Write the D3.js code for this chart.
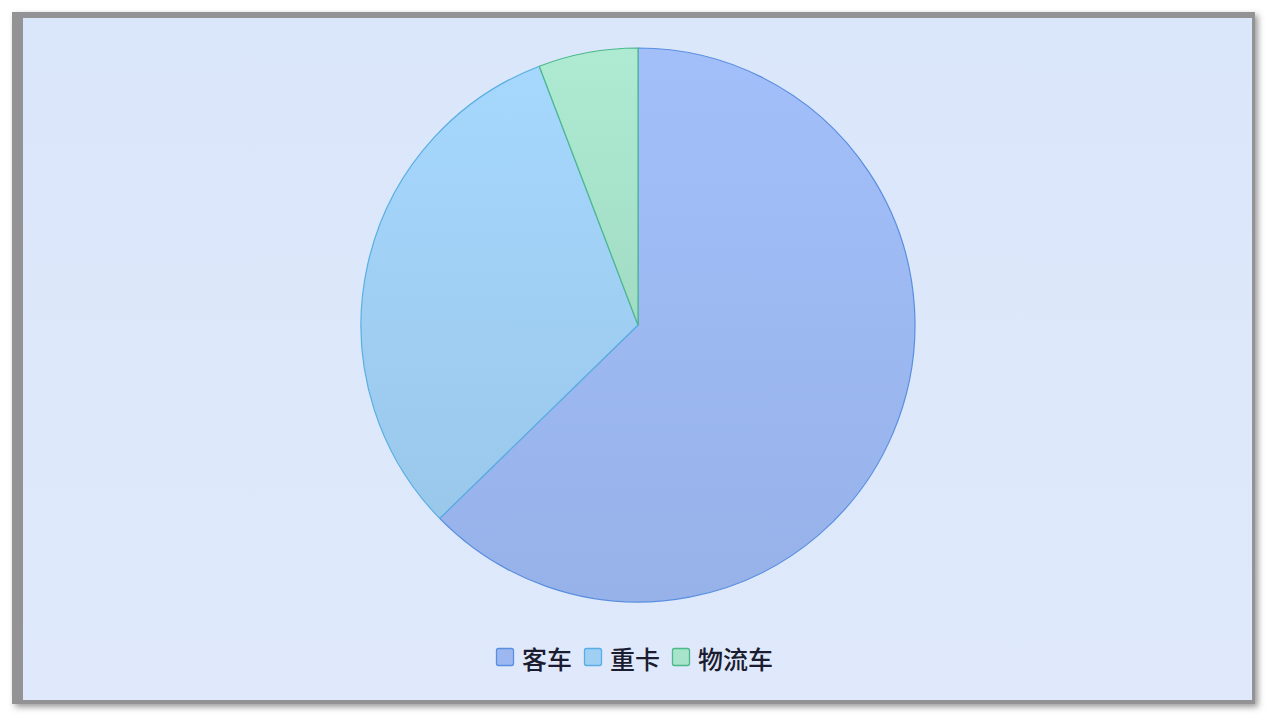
<!DOCTYPE html>
<html><head><meta charset="utf-8">
<script src="https://cdn.jsdelivr.net/npm/d3@7"></script>
<style>html,body{margin:0;padding:0;background:#fff;}svg{display:block;}</style>
</head><body>
<svg id="c" width="1278" height="720"></svg>
<script>
const categories = ["客车", "重卡", "物流车"];
const values = [62.7, 31.5, 5.8];
const fills = ["#9db8f1", "#a0cff4", "#a8e3cb"];
const strokes = ["#5a8fe0", "#58aee2", "#4bb98a"];

const svg = d3.select("#c");
const defs = svg.append("defs");
const sh = defs.append("filter").attr("id","sh").attr("x","-5%").attr("y","-5%").attr("width","110%").attr("height","110%");
sh.append("feDropShadow").attr("dx",3).attr("dy",3).attr("stdDeviation",3).attr("flood-color","#555").attr("flood-opacity",0.6);

// frame
svg.append("rect").attr("x",12).attr("y",12).attr("width",1243).attr("height",692).attr("fill","#939396").attr("filter","url(#sh)");
const bg = defs.append("linearGradient").attr("id","bg").attr("x1",0).attr("y1",0).attr("x2",0).attr("y2",1);
bg.append("stop").attr("offset","0%").attr("stop-color","#dae6fa");
bg.append("stop").attr("offset","100%").attr("stop-color","#dfe9fb");
svg.append("rect").attr("x",23).attr("y",18).attr("width",1229).attr("height",682).attr("fill","url(#bg)");

// gradients per slice
fills.forEach((f,i)=>{
  const g = defs.append("linearGradient").attr("id","g"+i).attr("x1",0).attr("y1",0).attr("x2",0).attr("y2",1);
  g.append("stop").attr("offset","0%").attr("stop-color", d3.color(f).brighter(0.1));
  g.append("stop").attr("offset","100%").attr("stop-color", d3.color(f).darker(0.1));
});

const cx = 638, cy = 325, r = 277;
const pie = d3.pie().sort(null).value(d=>d.v);
const arcs = pie(categories.map((c,i)=>({c, v: values[i], i})));
const arc = d3.arc().innerRadius(0).outerRadius(r);
const g = svg.append("g").attr("transform",`translate(${cx},${cy})`);
g.selectAll("path").data(arcs).join("path")
  .attr("d", arc)
  .attr("fill", d=>`url(#g${d.data.i})`)
  .attr("stroke", d=>strokes[d.data.i])
  .attr("stroke-width", 1.2)
  .attr("stroke-linejoin","round");

// legend
const legendX = [496, 584, 672];
const lg = svg.append("g");
categories.forEach((c,i)=>{
  lg.append("rect").attr("x",legendX[i]+0.5).attr("y",648.5).attr("width",17).attr("height",17)
    .attr("fill",fills[i]).attr("stroke",strokes[i]).attr("stroke-width",1.3).attr("rx",2);
  lg.append("text").attr("x",legendX[i]+26).attr("y",658).attr("dominant-baseline","central")
    .attr("font-family","'Noto Sans CJK SC', sans-serif").attr("font-size",25).attr("font-weight",500)
    .attr("fill","#1c1c30")
    .text(c);
});
</script>
</body></html>
